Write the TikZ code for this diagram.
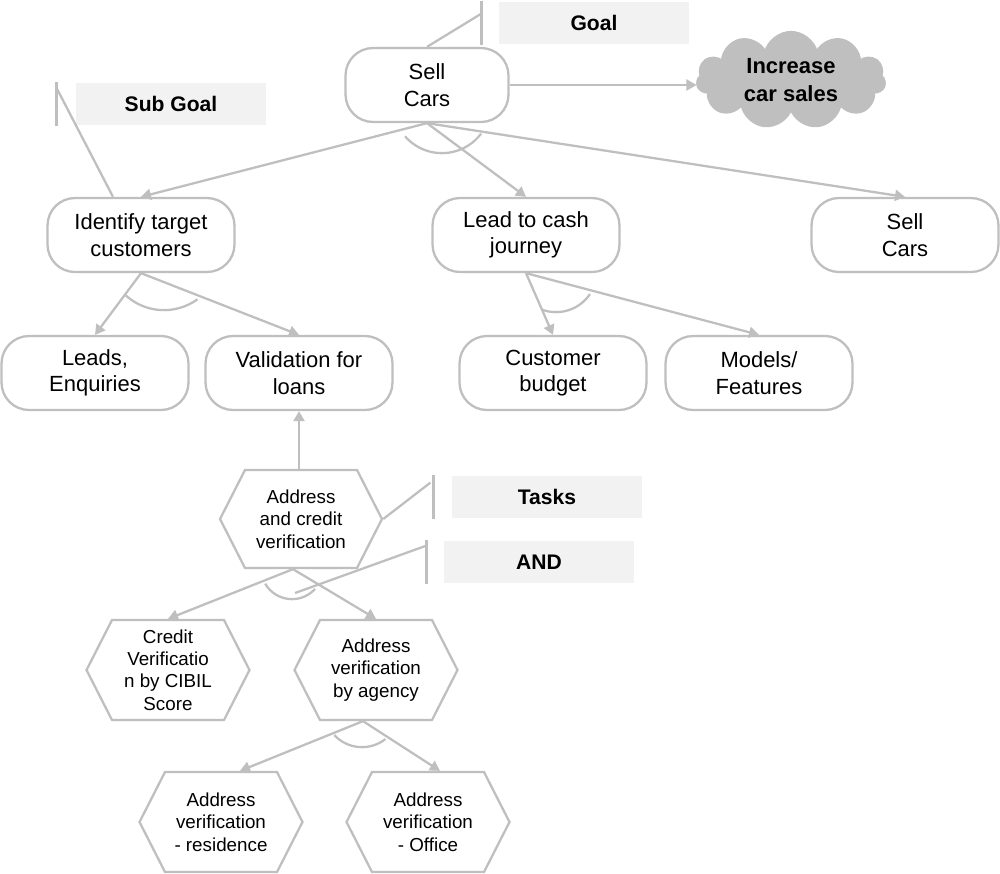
\documentclass[tikz,border=0pt]{standalone}
\usepackage{fontspec}
\setmainfont{Liberation Sans}
\usepackage{tikz}
\usetikzlibrary{arrows.meta,shapes.geometric,shapes.symbols}
\definecolor{linegray}{HTML}{BFBFBF}
\definecolor{notefill}{HTML}{F2F2F2}
\definecolor{cloudfill}{HTML}{BFBFBF}
\begin{document}
\begin{tikzpicture}[x=0.02cm,y=-0.02cm,line width=1.3pt,
  goalbox/.style={rounded corners=0.55cm,draw=linegray,fill=white,minimum width=3.74cm,minimum height=1.48cm,inner sep=2pt,align=center,font=\fontsize{12.5}{15}\selectfont},
  taskhex/.style={signal,signal to=west and east,signal pointer angle=126,draw=linegray,fill=white,minimum width=3.26cm,minimum height=2cm,inner sep=1pt,align=center,font=\fontsize{10.7}{12.7}\selectfont},
  notebox/.style={fill=notefill,minimum width=3.82cm,minimum height=0.85cm,font=\bfseries\fontsize{12}{14}\selectfont},
  ar/.style={draw=linegray,-{Triangle[length=2mm,width=2.2mm]}},
  ln/.style={draw=linegray}]
\useasboundingbox (0,0) rectangle (1000,873);
\node[goalbox,minimum width=3.26cm] (sell) at (427,85) {Sell\\Cars};
\node[notebox] (goal) at (594,23) {Goal};
\node[cloud,cloud puffs=11,aspect=2,draw=linegray,fill=cloudfill,minimum width=3.76cm,minimum height=1.9cm,inner sep=1pt,align=center,font=\bfseries\fontsize{12.5}{15.5}\selectfont] (sales) at (791,80) {Increase\\car sales};
\node[notebox] (subgoal) at (171,104) {Sub Goal};
\node[goalbox] (ident) at (141,235) {Identify target\\customers};
\node[goalbox] (lead) at (526,235) {Lead to cash\\journey};
\node[goalbox] (sellb) at (905,235) {Sell\\Cars};
\node[goalbox] (leads) at (95,373) {Leads,\\Enquiries};
\node[goalbox] (valid) at (299,373) {Validation for\\loans};
\node[goalbox] (budget) at (553,373) {Customer\\budget};
\node[goalbox] (models) at (759,373) {Models/\\Features};
\node[taskhex,minimum width=3.24cm,minimum height=1.96cm] (addr) at (301,519) {Address\\and credit\\verification};
\node[notebox] (tasks) at (547,497) {Tasks};
\node[notebox] (andnote) at (539,562) {AND};
\node[taskhex] (cibil) at (168,670) {Credit\\Verificatio\\n by CIBIL\\Score};
\node[taskhex] (agency) at (376,670) {Address\\verification\\by agency};
\node[taskhex] (res) at (221,822) {Address\\verification\\- residence};
\node[taskhex] (office) at (428,822) {Address\\verification\\- Office};
\coordinate (andpt) at (295,593);
% goal tree
\draw[ar] (sell.east) -- (sell.east -| sales.west);
\draw[ar] (sell.south) -- (ident.north);
\draw[ar] (sell.south) -- (lead.north);
\draw[ar] (sell.south) -- (sellb.north);
\draw[ln] ([shift={(15,-19)}]sell.south) ++(139:49) arc[start angle=139,end angle=37,radius=49];
\draw[ar] (ident.south) -- (leads.north);
\draw[ar] (ident.south) -- (valid.north);
\draw[ln] ([shift={(23,-20)}]ident.south) ++(132:57) arc[start angle=132,end angle=54,radius=57];
\draw[ar] (lead.south) -- (budget.north);
\draw[ar] (lead.south) -- (models.north);
\draw[ln] ([shift={(30,-2)}]lead.south) ++(110:41) arc[start angle=110,end angle=34,radius=41];
% tasks
\draw[ar] (valid.south |- addr.north) -- (valid.south);
\draw[ar] ([xshift=-0.16cm]addr.south) -- (cibil.north);
\draw[ar] ([xshift=-0.16cm]addr.south) -- (agency.north);
\draw[ln] ([shift={(-9,-1)}]addr.south) ++(150:31) arc[start angle=150,end angle=42,radius=31];
\draw[ar] ([xshift=-0.26cm]agency.south) -- ([xshift=0.38cm]res.north);
\draw[ar] ([xshift=-0.26cm]agency.south) -- ([xshift=0.24cm]office.north);
\draw[ln] ([shift={(-14,-12)}]agency.south) ++(137:38) arc[start angle=137,end angle=52,radius=38];
% callouts
\draw[ln] ([xshift=-0.32cm]goal.north west) -- ([xshift=-0.32cm]goal.south west);
\draw[ln] ([xshift=-0.32cm,yshift=-0.26cm]goal.north west) -- (sell.north);
\draw[ln] ([xshift=-0.36cm]subgoal.north west) -- ([xshift=-0.36cm]subgoal.south west);
\draw[ln] ([xshift=-0.36cm,yshift=-0.12cm]subgoal.north west) -- ([xshift=-0.56cm]ident.north);
\draw[ln] ([xshift=-0.34cm]tasks.north west) -- ([xshift=-0.34cm]tasks.south west);
\draw[ln] ([xshift=-0.4cm,yshift=-0.16cm]tasks.north west) -- (addr.east);
\draw[ln] ([xshift=-0.32cm]andnote.north west) -- ([xshift=-0.32cm]andnote.south west);
\draw[ln] ([xshift=-0.32cm,yshift=-0.12cm]andnote.north west) -- (andpt);
\end{tikzpicture}
\end{document}
